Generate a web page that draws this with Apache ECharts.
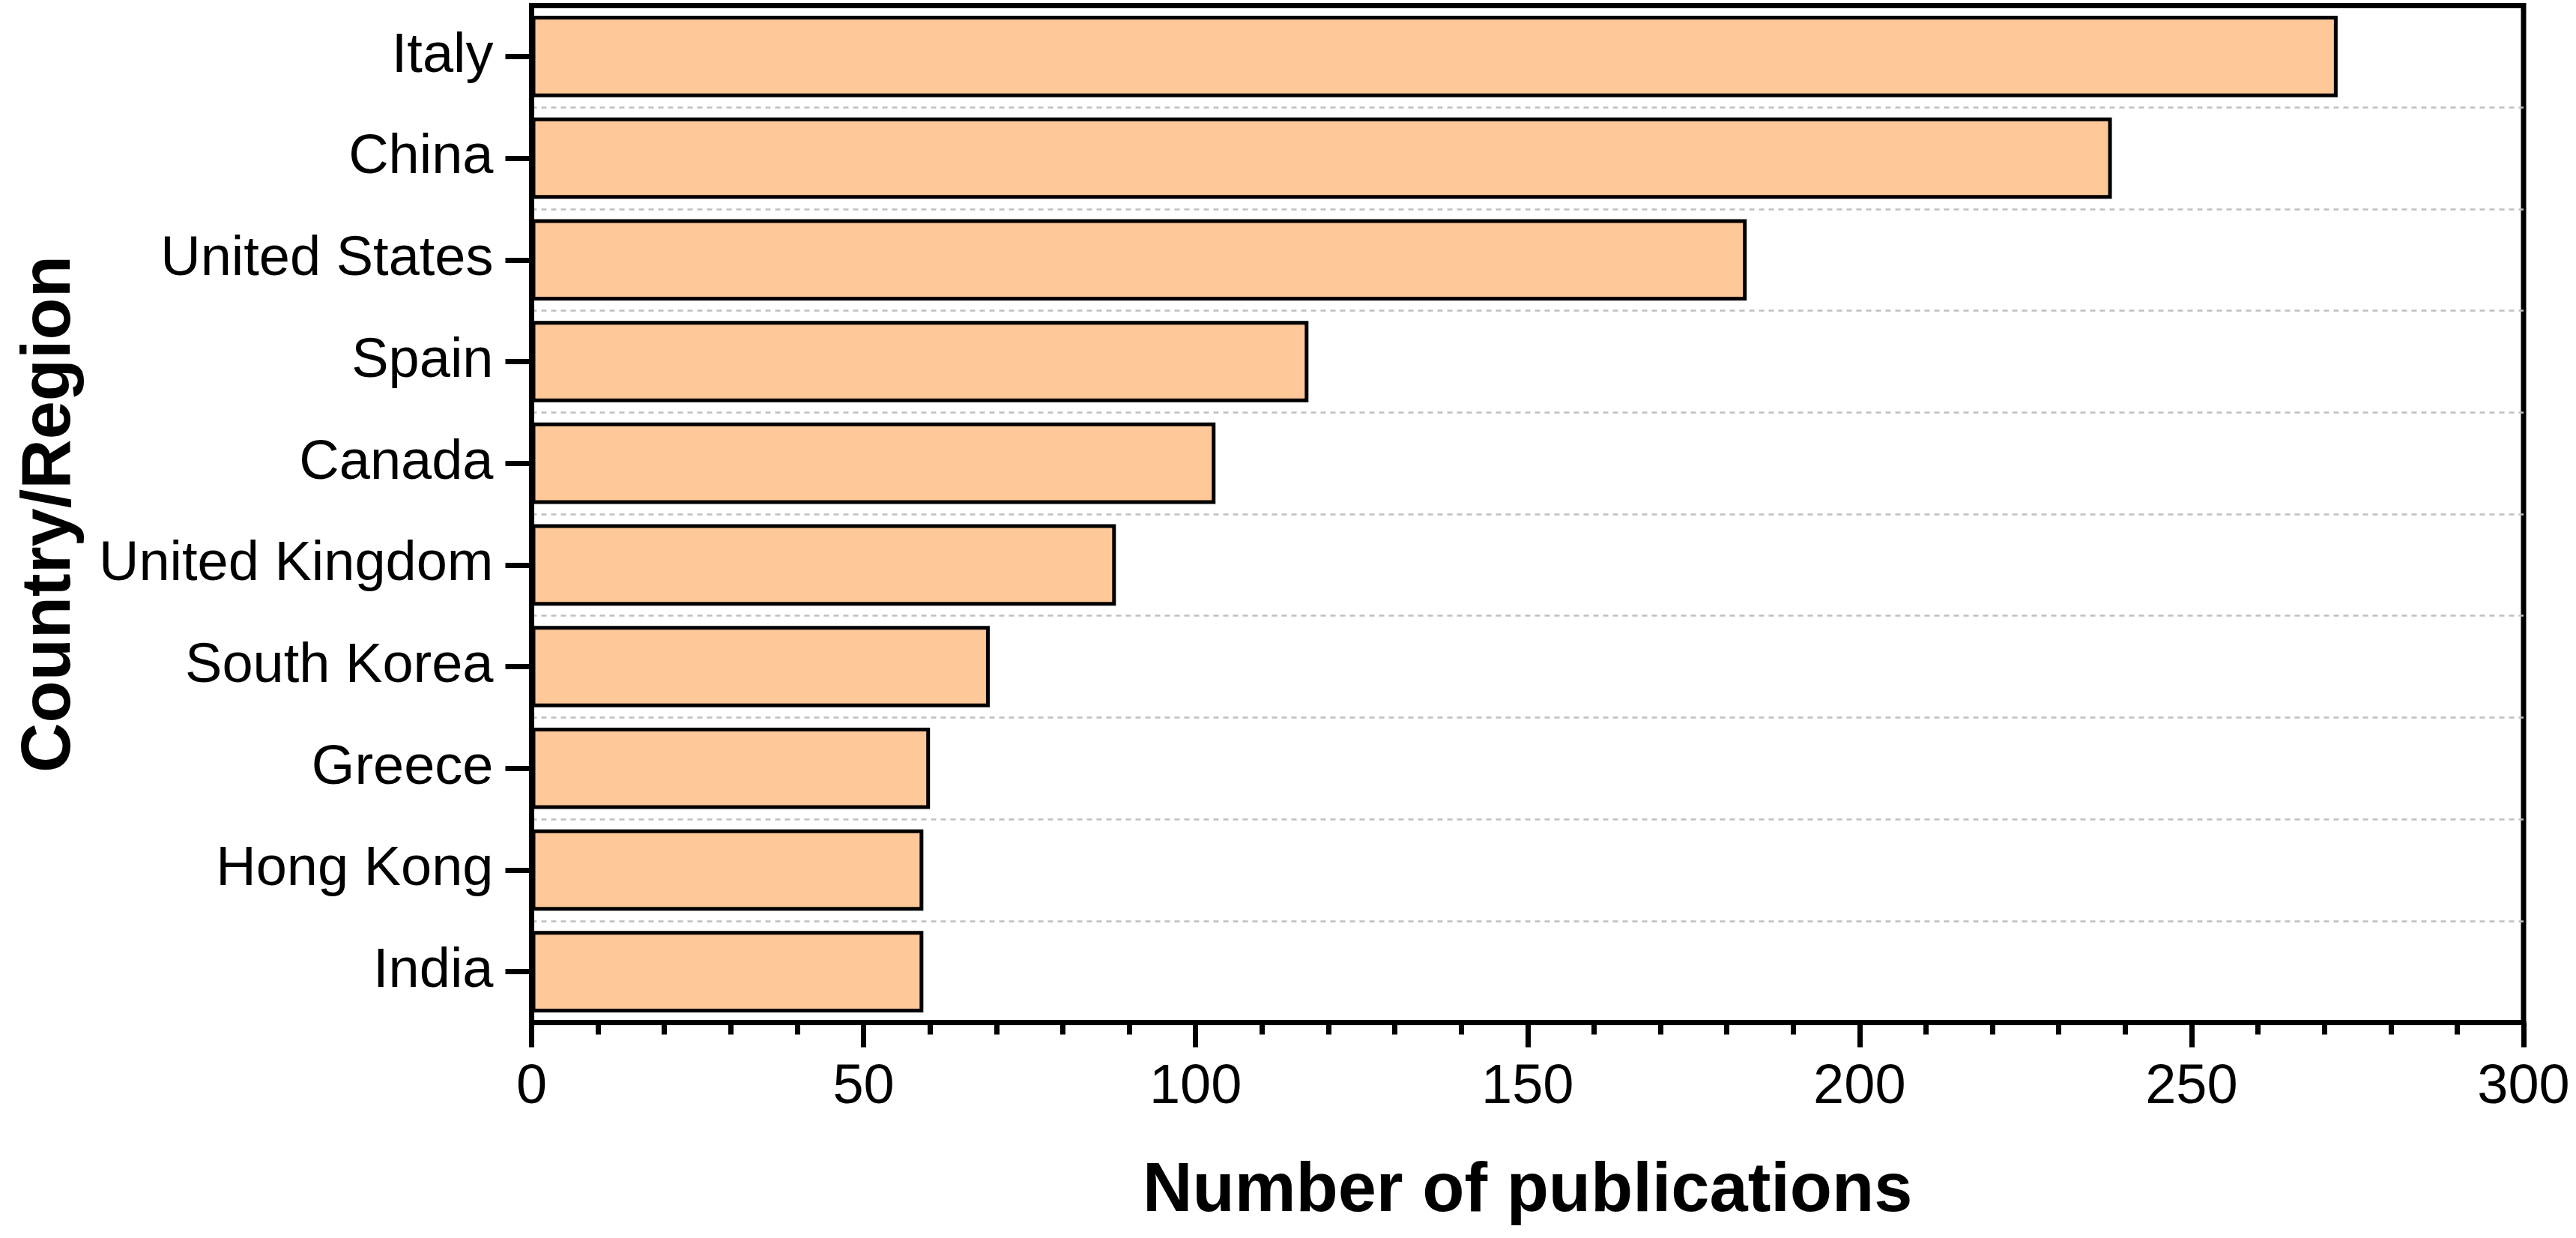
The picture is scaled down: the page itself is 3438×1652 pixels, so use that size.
<!DOCTYPE html>
<html>
<head>
<meta charset="utf-8">
<script src="https://cdn.jsdelivr.net/npm/echarts@6/dist/echarts.min.js"></script>
<style>
  html, body { margin: 0; padding: 0; background: #fff; }
  #conMain { width: 3438px; height: 1652px; }
</style>
</head>
<body>
<div id="conMain"></div>
<script>
// categories from top to bottom
var countries = ['Italy', 'China', 'United States', 'Spain', 'Canada',
                 'United Kingdom', 'South Korea', 'Greece', 'Hong Kong', 'India'];
var publications = [272, 238, 183, 117, 103, 88, 69, 60, 59, 59];
var xTicks = [0, 50, 100, 150, 200, 250, 300];

var font = "'Liberation Sans', Arial, sans-serif";

var option = {
    animation: false,
    backgroundColor: '#fff',
    grid: {
        left: 709.5,
        right: 70,
        top: 7.5,
        bottom: 287.5,
        show: true,
        borderColor: '#000',
        borderWidth: 7,
        backgroundColor: 'transparent'
    },
    xAxis: {
        type: 'value',
        min: xTicks[0],
        max: xTicks[xTicks.length - 1],
        interval: xTicks[1] - xTicks[0],
        name: 'Number of publications',
        nameLocation: 'middle',
        nameGap: 180,
        nameTextStyle: { fontFamily: font, fontSize: 92, fontWeight: 'bold', color: '#000' },
        axisLine: { show: true, lineStyle: { color: '#000', width: 7 } },
        axisTick: { show: true, length: 33, lineStyle: { color: '#000', width: 7 } },
        minorTick: { show: true, splitNumber: 5, length: 16, lineStyle: { color: '#000', width: 7 } },
        axisLabel: { fontFamily: font, fontSize: 74, color: '#000', margin: 50 },
        splitLine: { show: false }
    },
    yAxis: {
        type: 'category',
        inverse: true,
        data: countries,
        name: 'Country/Region',
        nameLocation: 'middle',
        nameRotate: 90,
        nameGap: 596,
        nameTextStyle: { fontFamily: font, fontSize: 92, fontWeight: 'bold', color: '#000' },
        axisLine: { show: true, lineStyle: { color: '#000', width: 7 } },
        axisTick: { show: true, alignWithLabel: true, length: 35, lineStyle: { color: '#000', width: 7 } },
        axisLabel: { fontFamily: font, fontSize: 74, color: '#000', margin: 51 },
        splitLine: {
            show: true,
            showMinLine: false,
            showMaxLine: false,
            lineStyle: { color: '#BFBFBF', width: 2.5, type: [7, 6] }
        }
    },
    series: [{
        type: 'bar',
        data: publications,
        barCategoryGap: '20%',
        itemStyle: { color: '#FEC898', borderColor: '#000', borderWidth: 5 }
    }]
};

var myChart = echarts.init(document.getElementById('conMain'), null, { renderer: 'canvas' });
myChart.setOption(option);
</script>
</body>
</html>
